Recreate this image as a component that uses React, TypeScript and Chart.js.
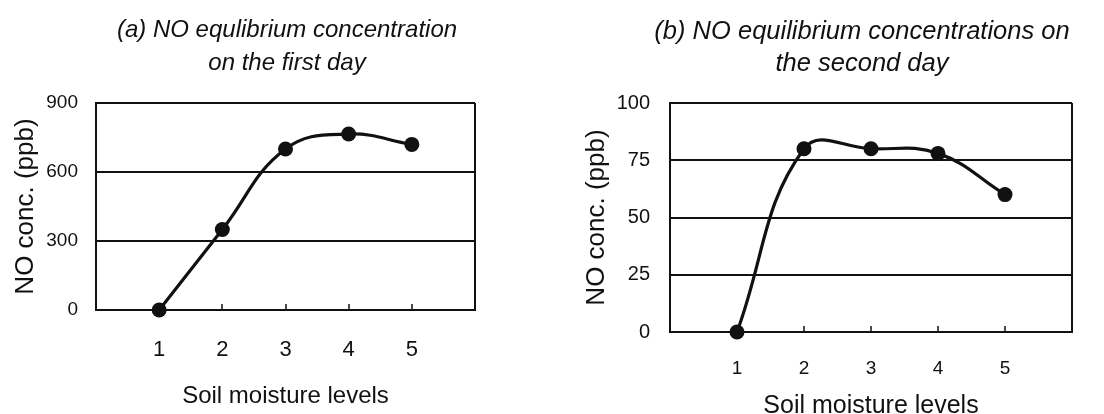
import React, { useEffect, useRef } from "react";
import { Chart, registerables } from "chart.js";

Chart.register(...registerables);

// ---- data ----
const moistureLevels = [1, 2, 3, 4, 5];
const day1NO = [0, 350, 700, 765, 720];
const day2NO = [0, 80, 80, 78, 60];
const day1YTicks = [0, 300, 600, 900];
const day2YTicks = [0, 25, 50, 75, 100];
const xTickValues = [0, 1, 2, 3, 4, 5, 6];
const day1Title = ["(a) NO equlibrium concentration", "on the first day"];
const day2Title = ["(b) NO equilibrium concentrations on", "the second day"];
const xAxisTitle = "Soil moisture levels";
const yAxisTitle = "NO conc. (ppb)";

const FONT = "'Liberation Sans', Arial, Helvetica, sans-serif";
const INK = "#111";
const CLEAR = "rgba(0,0,0,0)";

type Spec = {
  values: number[];
  yTicks: number[];
  yMax: number;
  title: string[];
  titleX: number;
  titleY: number;
  titleDy: number;
  titleSize: number;
  padTop: number;
  padRight: number;
  yWidth: number;
  xHeight: number;
  yTickSize: number;
  yTickPad: number;
  yTitleSize: number;
  yTitlePad: number;
  xTickSize: number;
  xTickPad: number;
  xTitleSize: number;
  xTitlePad: number;
};

function makeTitlePlugin(spec: Spec) {
  return {
    id: "panelTitle",
    afterDraw(chart: any) {
      const ctx = chart.ctx;
      ctx.save();
      ctx.fillStyle = INK;
      ctx.font = `italic ${spec.titleSize}px ${FONT}`;
      ctx.textAlign = "center";
      ctx.textBaseline = "middle";
      spec.title.forEach((t, i) => ctx.fillText(t, spec.titleX, spec.titleY + i * spec.titleDy));
      ctx.restore();
    },
  };
}

function makeConfig(spec: Spec): any {
  return {
    type: "line",
    data: {
      datasets: [
        {
          data: moistureLevels.map((x, i) => ({ x, y: spec.values[i] })),
          borderColor: INK,
          backgroundColor: INK,
          borderWidth: 3.2,
          tension: 0.42,
          fill: false,
          clip: false,
          pointRadius: 7.5,
          pointBorderWidth: 0,
          pointBackgroundColor: INK,
        },
      ],
    },
    options: {
      animation: false,
      responsive: false,
      layout: { padding: { top: spec.padTop, right: spec.padRight, left: 0, bottom: 0 } },
      plugins: { legend: { display: false }, tooltip: { enabled: false } },
      scales: {
        x: {
          type: "linear",
          min: 0,
          max: 6,
          afterBuildTicks: (s: any) => {
            s.ticks = xTickValues.map((v) => ({ value: v }));
          },
          afterFit: (s: any) => {
            s.height = spec.xHeight;
          },
          ticks: {
            autoSkip: false,
            maxRotation: 0,
            color: INK,
            padding: spec.xTickPad,
            font: { family: FONT, size: spec.xTickSize },
            callback: (v: number) => (moistureLevels.includes(v) ? String(v) : ""),
          },
          grid: {
            color: (c: any) => (c.tick && (c.tick.value === 0 || c.tick.value === 6) ? INK : CLEAR),
            tickColor: (c: any) => (c.tick && moistureLevels.includes(c.tick.value) ? INK : CLEAR),
            lineWidth: 2,
            tickWidth: 1.5,
            tickLength: -6,
          },
          border: { display: true, color: INK, width: 2 },
          title: {
            display: true,
            text: xAxisTitle,
            color: INK,
            font: { family: FONT, size: spec.xTitleSize },
            padding: { top: 0, bottom: spec.xTitlePad },
          },
        },
        y: {
          min: 0,
          max: spec.yMax,
          afterBuildTicks: (s: any) => {
            s.ticks = spec.yTicks.map((v) => ({ value: v }));
          },
          afterFit: (s: any) => {
            s.width = spec.yWidth;
          },
          ticks: {
            color: INK,
            padding: spec.yTickPad,
            font: { family: FONT, size: spec.yTickSize },
          },
          grid: { color: INK, lineWidth: 2, drawTicks: false },
          border: { display: true, color: INK, width: 2 },
          title: {
            display: true,
            text: yAxisTitle,
            color: INK,
            font: { family: FONT, size: spec.yTitleSize },
            padding: { top: spec.yTitlePad, bottom: 0 },
          },
        },
      },
    },
    plugins: [makeTitlePlugin(spec)],
  };
}

const specA: Spec = {
  values: day1NO,
  yTicks: day1YTicks,
  yMax: 900,
  title: day1Title,
  titleX: 287,
  titleY: 30,
  titleDy: 33,
  titleSize: 24,
  padTop: 103,
  padRight: 77,
  yWidth: 96,
  xHeight: 104,
  yTickSize: 19,
  yTickPad: 18,
  yTitleSize: 26,
  yTitlePad: 10,
  xTickSize: 22,
  xTickPad: 33,
  xTitleSize: 24,
  xTitlePad: 3,
};

const specB: Spec = {
  values: day2NO,
  yTicks: day2YTicks,
  yMax: 100,
  title: day2Title,
  titleX: 862 - 552,
  titleY: 32,
  titleDy: 32,
  titleSize: 25.5,
  padTop: 103,
  padRight: 32,
  yWidth: 118,
  xHeight: 98,
  yTickSize: 20,
  yTickPad: 20,
  yTitleSize: 26,
  yTitlePad: 29,
  xTickSize: 19,
  xTickPad: 31,
  xTitleSize: 25,
  xTitlePad: 9,
};

function Panel({ spec, left, width, height }: { spec: Spec; left: number; width: number; height: number }) {
  const ref = useRef<HTMLCanvasElement | null>(null);
  useEffect(() => {
    if (!ref.current) return;
    const chart = new Chart(ref.current, makeConfig(spec));
    return () => chart.destroy();
  }, [spec]);
  return (
    <canvas
      ref={ref}
      width={width}
      height={height}
      style={{ position: "absolute", left, top: 0, width, height }}
    />
  );
}

export default function App() {
  return (
    <div
      style={{
        position: "fixed",
        left: 0,
        top: 0,
        width: 1104,
        height: 414,
        overflow: "hidden",
        background: "#fff",
      }}
    >
      <Panel spec={specA} left={0} width={552} height={414} />
      <Panel spec={specB} left={552} width={552} height={430} />
    </div>
  );
}
